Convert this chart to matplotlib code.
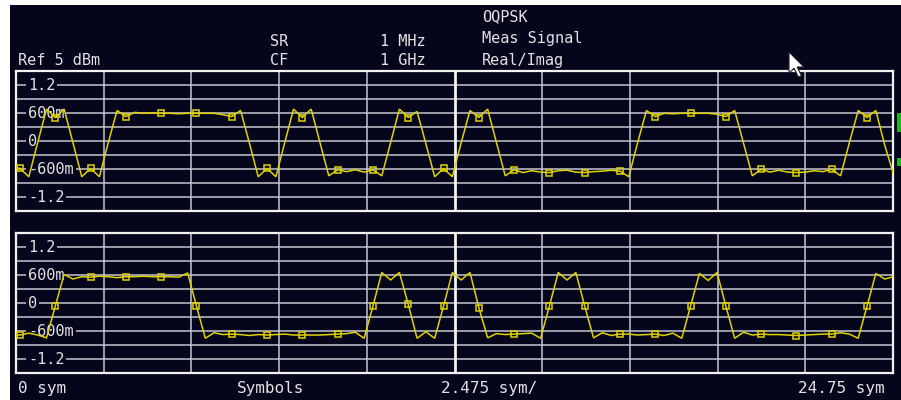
import numpy as np
import matplotlib
matplotlib.use("Agg")
import matplotlib.pyplot as plt
from matplotlib.patches import Rectangle, Polygon

# ---- data: Real (I) and Imag (Q) traces, 4 samples per symbol ----
# first value is the sample just left of symbol 0; every 4th value after it
# is a symbol instant (drawn with a square marker)
real_trace = [
    -0.55,
    -0.58, -0.76, -0.03, 0.69,
    0.51, 0.69, -0.03, -0.76,
    -0.58, -0.76, -0.03, 0.66,
    0.53, 0.62, 0.60, 0.61,
    0.60, 0.60, 0.59, 0.60,
    0.60, 0.60, 0.60, 0.57,
    0.53, 0.66, -0.04, -0.76,
    -0.58, -0.76, -0.03, 0.69,
    0.51, 0.69, -0.03, -0.74,
    -0.61, -0.65, -0.61, -0.66,
    -0.61, -0.74, -0.03, 0.69,
    0.51, 0.64, -0.05, -0.76,
    -0.58, -0.76, -0.03, 0.66,
    0.51, 0.69, -0.03, -0.74,
    -0.61, -0.67, -0.63, -0.66,
    -0.67, -0.63, -0.62, -0.66,
    -0.67, -0.65, -0.64, -0.62,
    -0.64, -0.76, -0.03, 0.66,
    0.53, 0.60, 0.59, 0.60,
    0.60, 0.60, 0.60, 0.58,
    0.53, 0.66, -0.04, -0.74,
    -0.60, -0.66, -0.62, -0.66,
    -0.67, -0.66, -0.63, -0.65,
    -0.60, -0.74, -0.03, 0.66,
    0.51, 0.66, -0.08, -0.70,
]

imag_trace = [
    -0.68,
    -0.68, -0.64, -0.68, -0.74,
    -0.06, 0.62, 0.52, 0.57,
    0.56, 0.58, 0.57, 0.55,
    0.57, 0.57, 0.58, 0.57,
    0.57, 0.57, 0.56, 0.65,
    -0.06, -0.75, -0.63, -0.67,
    -0.66, -0.67, -0.69, -0.67,
    -0.68, -0.67, -0.66, -0.68,
    -0.68, -0.68, -0.68, -0.67,
    -0.66, -0.65, -0.62, -0.75,
    -0.06, 0.66, 0.50, 0.66,
    -0.02, -0.75, -0.61, -0.75,
    -0.06, 0.66, 0.50, 0.66,
    -0.09, -0.74, -0.65, -0.67,
    -0.66, -0.65, -0.64, -0.75,
    -0.06, 0.66, 0.50, 0.66,
    -0.06, -0.74, -0.63, -0.69,
    -0.66, -0.66, -0.68, -0.67,
    -0.66, -0.69, -0.64, -0.75,
    -0.06, 0.64, 0.49, 0.66,
    -0.06, -0.75, -0.62, -0.68,
    -0.66, -0.67, -0.67, -0.68,
    -0.69, -0.68, -0.67, -0.66,
    -0.66, -0.63, -0.66, -0.75,
    -0.06, 0.64, 0.52, 0.57,
]

y_tick_values = [1.2, 0.6, 0.0, -0.6, -1.2]
y_tick_labels = ["1.2", "600m", "0", "-600m", "-1.2"]

x_start, x_div, n_div = 0.0, 2.475, 10
y_lim = 1.5
first_symbol = 0.113      # time of first symbol instant (symbols)
sample_step = 0.249       # 4 samples per symbol

header_rows = [
    ("Ref 5 dBm", 18, 65),
    ("SR", 270, 46), ("1 MHz", 380, 46),
    ("CF", 270, 65), ("1 GHz", 380, 65),
    ("OQPSK", 482, 21), ("Meas Signal", 482, 43), ("Real/Imag", 482, 65),
]
footer_rows = [
    ("0 sym", 18), ("Symbols", 237), ("2.475 sym/", 441), ("24.75 sym", 798),
]

# ---- style ----
W, H = 901, 400
BG = "#05051c"
GRID = "#c6c6ce"
FRAME = "#f2f2f2"
TRACE = "#e0d200"
TEXT = "#e2e2e2"
MONO = "DejaVu Sans Mono"

fig = plt.figure(figsize=(W / 100, H / 100), dpi=100)
fig.patch.set_facecolor("white")
fig.patches.append(Rectangle((10 / W, 0), 1 - 10 / W, 1 - 5 / H,
                             transform=fig.transFigure, facecolor=BG,
                             edgecolor="none", zorder=-5))


def px_to_fig(x, y):
    return x / W, 1 - y / H


def make_panel(top_px, trace):
    ax = fig.add_axes([16 / W, 1 - (top_px + 140) / H, 877 / W, 140 / H])
    ax.set_zorder(1)
    ax.set_facecolor(BG)
    x_end = x_start + n_div * x_div
    ax.set_xlim(x_start, x_end)
    ax.set_ylim(-y_lim, y_lim)
    ax.set_xticks([])
    ax.set_yticks([])
    for s in ax.spines.values():
        s.set_color(FRAME)
        s.set_linewidth(1.6)
    for v in np.arange(-1.2, 1.21, 0.3):
        ax.axhline(v, color=GRID, lw=1.1, zorder=1)
    for i in range(1, n_div):
        if i == n_div // 2:
            ax.axvline(x_start + i * x_div, color=FRAME, lw=2.0, zorder=1.5)
        else:
            ax.axvline(x_start + i * x_div, color=GRID, lw=1.1, zorder=1)
    for v, lbl in zip(y_tick_values, y_tick_labels):
        ax.text(0.34, v, lbl, family=MONO, fontsize=11, color=TEXT,
                ha="left", va="center", zorder=2,
                bbox=dict(boxstyle="square,pad=0.12", fc=BG, ec="none"))
    vals = np.asarray(trace)
    t = first_symbol + sample_step * np.arange(-1, len(vals) - 1)
    ax.plot(t, vals, color=TRACE, lw=1.1, zorder=3, solid_joinstyle="miter")
    ax.plot(t[1::4], vals[1::4], ls="none", marker="s", ms=5,
            mfc="none", mec=TRACE, mew=1.1, zorder=4)
    return ax


make_panel(71.3, real_trace)
make_panel(233.3, imag_trace)

for txt, x, y in header_rows:
    fx, fy = px_to_fig(x, y)
    fig.text(fx, fy, txt, family=MONO, fontsize=11, color=TEXT,
             ha="left", va="baseline")
for txt, x in footer_rows:
    fx, fy = px_to_fig(x, 393)
    fig.text(fx, fy, txt, family=MONO, fontsize=11.5, color=TEXT,
             ha="left", va="baseline")

# status indicators at right edge of the upper diagram
for (x0, y0, w, h) in [(897, 113, 4, 19), (897, 158, 4, 8)]:
    fx, fy = px_to_fig(x0, y0 + h)
    fig.patches.append(Rectangle((fx, fy), w / W, h / H,
                                 transform=fig.transFigure,
                                 facecolor="#10c010", edgecolor="none",
                                 zorder=5))

# mouse pointer
arrow = np.array([(0, 0), (0, 17), (4, 13), (7.5, 20), (10, 19),
                  (6.5, 12), (12, 12)], dtype=float) * 1.25
arrow += (789, 52)
pts = [px_to_fig(x, y) for x, y in arrow]
fig.patches.append(Polygon(pts, closed=True, transform=fig.transFigure,
                           facecolor="white", edgecolor="#202020",
                           lw=0.8, zorder=6))

fig.savefig("out.png", dpi=100, facecolor=fig.get_facecolor())
